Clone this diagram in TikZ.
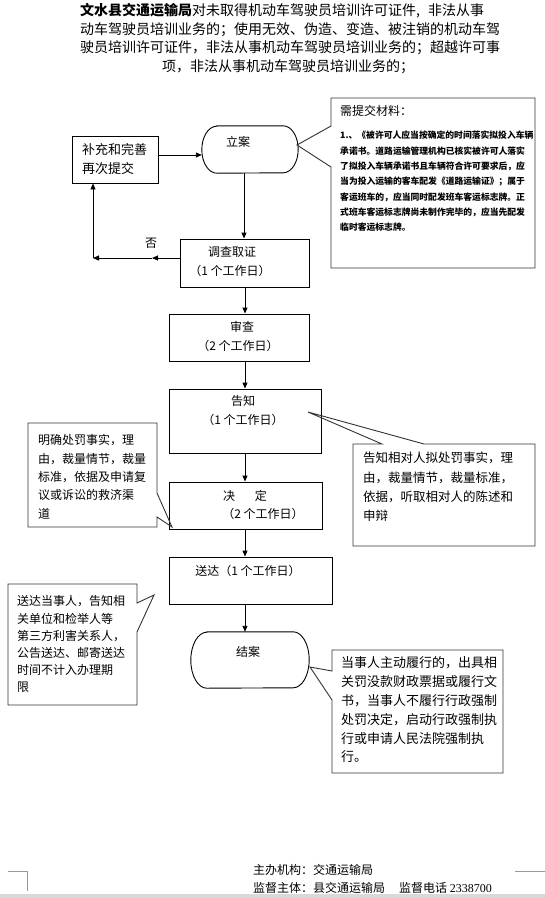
\documentclass[tikz,border=0pt]{standalone}
\usepackage{fontspec}
\setmainfont{Noto Sans CJK SC}
\newfontfamily\latinserif{Liberation Serif}
\usetikzlibrary{arrows.meta}

\newcommand\stadiumpath[3]{%
  \draw[line width=0.9pt] ([xshift=#2]#1.north west) -- ([xshift=-#2]#1.north east)
    arc[start angle=90,end angle=-90,x radius=#2,y radius=#3]
    -- ([xshift=#2]#1.south west)
    arc[start angle=270,end angle=90,x radius=#2,y radius=#3] -- cycle;}

\newcommand\textlines[6]{%
  \foreach \myline [count=\i from 0] in {#6} {
    \node[txt,anchor=west,font=\fontsize{#5}{#5}\selectfont] (#1\i) at (#2, #3+\i*#4) {\myline};
  }}

\begin{document}
\begin{tikzpicture}[x=1pt,y=-1pt,
  box/.style={draw,line width=0.9pt,inner sep=0},
  ghost/.style={inner sep=0,draw=none},
  txt/.style={inner sep=0,text height=0.88em,text depth=0.12em},
  arr/.style={line width=0.9pt,-{Triangle[length=6pt,width=5pt]}},
  callout/.style={draw=black!80,line width=0.9pt,line join=miter},
  t12/.style={txt,font=\fontsize{12}{12}\selectfont},
]
\useasboundingbox (0,0) rectangle (545,898);

% ---- title ----
\node[txt,anchor=west,font=\fontsize{14}{14}\selectfont] (t1) at (80,12)
  {\textbf{文水县交通运输局}对未取得机动车驾驶员培训许可证件,\hspace{8pt}非法从事};
\node[txt,anchor=west,font=\fontsize{14}{14}\selectfont] (t2) at (80,30.5)
  {动车驾驶员培训业务的；使用无效、伪造、变造、被注销的机动车驾};
\node[txt,anchor=west,font=\fontsize{14}{14}\selectfont] (t3) at (80,49)
  {驶员培训许可证件，非法从事机动车驾驶员培训业务的；超越许可事};
\node[txt,font=\fontsize{14}{14}\selectfont] (t4) at (288,67.5)
  {项，非法从事机动车驾驶员培训业务的；};

% ---- main boxes ----
\node[box,minimum width=86pt,minimum height=47pt] (buchong) at (115,159.5) {};
\node[ghost,minimum width=96pt,minimum height=47pt] (lian) at (250,149.5) {};
\stadiumpath{lian}{15pt}{23.5pt}
\node[box,minimum width=129pt,minimum height=48pt] (diaocha) at (244.5,263) {};
\node[box,minimum width=140pt,minimum height=47pt] (shencha) at (239,337.5) {};
\node[box,minimum width=152pt,minimum height=64pt] (gaozhi) at (245,421) {};
\node[box,minimum width=153pt,minimum height=47pt] (jueding) at (245.5,505.5) {};
\node[box,minimum width=163pt,minimum height=47pt] (songda) at (250.5,580.5) {};
\node[ghost,minimum width=118pt,minimum height=56pt] (jiean) at (250,660) {};
\stadiumpath{jiean}{16pt}{28pt}

% ---- box texts ----
\node[txt,anchor=west,font=\fontsize{13}{13}\selectfont] (buchongA) at (82,151) {补充和完善};
\node[txt,anchor=west,font=\fontsize{13}{13}\selectfont] (buchongB) at (82,170) {再次提交};
\node[t12] (lianT) at (238,143) {立案};
\node[t12] (fou) at (151,244) {否};
\node[t12] (diaochaA) at (232,253) {调查取证};
\node[t12] (diaochaB) at (230,272) {（1 个工作日）};
\node[t12] (shenchaA) at (242,328) {审查};
\node[t12] (shenchaB) at (238,347) {（2 个工作日）};
\node[t12] (gaozhiA) at (243,402) {告知};
\node[t12] (gaozhiB) at (243,421) {（1 个工作日）};
\node[t12] (juedingA) at (245,497) {决\hspace{20pt}定};
\node[t12] (juedingB) at (263,515) {（2 个工作日）};
\node[t12] (songdaT) at (248,572) {送达（1 个工作日）};
\node[t12] (jieanT) at (248,653) {结案};

% ---- connectors ----
\coordinate (spine) at (245,0);
\coordinate (fb1) at (152,258);
\coordinate (fb2) at (93,258);
\coordinate (lk) at (0,155);
\draw[arr] (buchong.east |- lk) -- (lian.west |- lk);
\draw[arr] ([xshift=-1pt]lian.south -| spine) -- ([xshift=-1pt]diaocha.north -| spine);
\draw[arr] (diaocha.west |- fb1) -- (fb1);
\draw[arr] (fb1) -- (fb2);
\draw[arr] (fb2) -- (buchong.south -| fb2);
\draw[arr] (diaocha.south -| spine) -- (shencha.north -| spine);
\draw[arr] (shencha.south -| spine) -- (gaozhi.north -| spine);
\draw[arr] (gaozhi.south -| spine) -- (jueding.north -| spine);
\draw[arr] (jueding.south -| spine) -- (songda.north -| spine);
\draw[arr] (songda.south -| spine) -- (jiean.north -| spine);

% ---- callouts ----
\draw[callout] (331,98) -- (535,98) -- (535,268) -- (331,268) -- (331,167) -- (297,145) -- (331,126) -- cycle;
\node[txt,anchor=west,font=\fontsize{12}{12}\selectfont] (xutijiao) at (340,112) {需提交材料：};
\textlines{cl}{340}{135}{15.3}{8.8}{\bfseries 1.、《被许可人应当按确定的时间落实拟投入车辆,\bfseries 承诺书。道路运输管理机构已核实被许可人落实,\bfseries 了拟投入车辆承诺书且车辆符合许可要求后，应,\bfseries 当为投入运输的客车配发《道路运输证》；属于,\bfseries 客运班车的，应当同时配发班车客运标志牌。正,\bfseries 式班车客运标志牌尚未制作完毕的，应当先配发,\bfseries 临时客运标志牌。}

\draw[callout] (28,423) -- (157,423) -- (157,493) -- (172,527) -- (157,517) -- (157,527) -- (28,527) -- cycle;
\textlines{mq}{38}{441}{18.3}{12}{明确处罚事实，理,由，裁量情节，裁量,标准，依据及申请复,议或诉讼的救济渠,道}

\draw[callout] (353,444) -- (382,444) -- (308,412) -- (424,444) -- (535,444) -- (535,546) -- (353,546) -- cycle;
\textlines{gz}{363}{459}{19.3}{12.5}{告知相对人拟处罚事实，理,由，裁量情节，裁量标准，,依据，听取相对人的陈述和,申辩}

\draw[callout] (8,584) -- (137,584) -- (137,603) -- (154,595) -- (137,632) -- (137,705) -- (8,705) -- cycle;
\textlines{sd}{17}{602}{17.2}{12}{送达当事人，告知相,关单位和检举人等,第三方利害关系人，,公告送达、邮寄送达,时间不计入办理期,限}

\draw[callout] (332,650) -- (503,650) -- (503,773) -- (332,773) -- (332,700) -- (310,667) -- (332,671) -- cycle;
\textlines{ds}{341}{664}{18.8}{13}{当事人主动履行的，出具相,关罚没款财政票据或履行文,书，当事人不履行行政强制,处罚决定，启动行政强制执,行或申请人民法院强制执,行。}

% ---- footer ----
\node[t12,anchor=west] (zhuban) at (253,871) {主办机构：交通运输局};
\node[t12,anchor=west] (jiandu) at (253,889) {监督主体：县交通运输局\hspace{14pt}监督电话 {\latinserif 2338700}};
\draw[gray!80,line width=0.6pt] (8,871) -- (27,871) -- (27,891);
\draw[gray!80,line width=0.6pt] (515,871) -- (545,871);
\fill[gray!30] (0,894) rectangle (545,898);
\end{tikzpicture}
\end{document}
